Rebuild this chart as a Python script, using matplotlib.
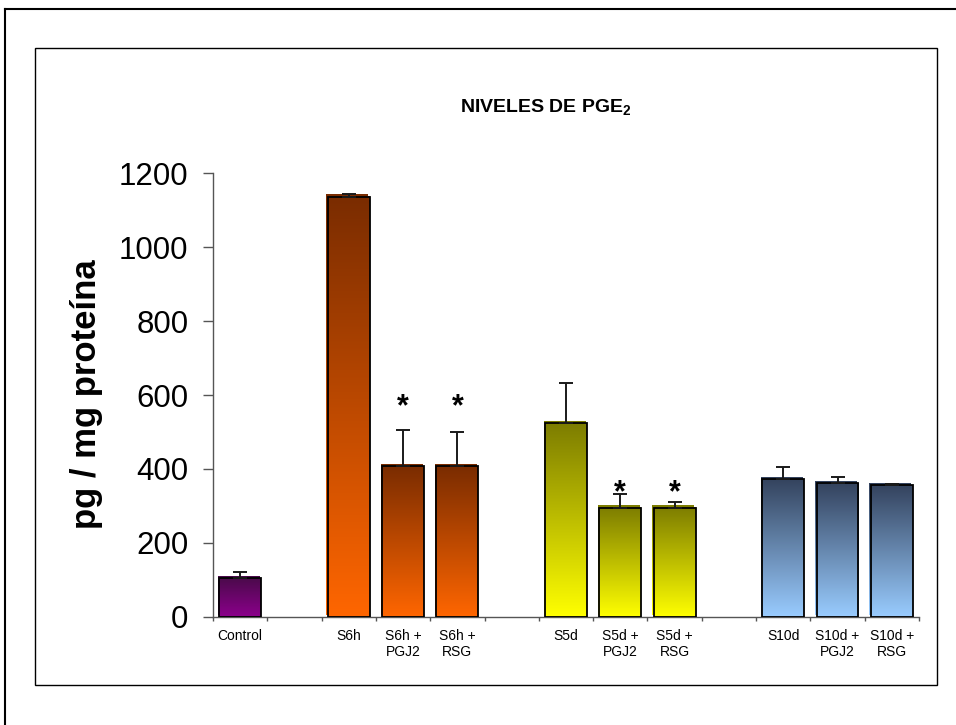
import numpy as np
import matplotlib.pyplot as plt
import matplotlib.transforms as mtransforms
from matplotlib.colors import LinearSegmentedColormap
from matplotlib.patches import Rectangle
from matplotlib.lines import Line2D

plt.rcParams['font.family'] = ['Liberation Sans', 'DejaVu Sans']
plt.rcParams['mathtext.fontset'] = 'custom'
plt.rcParams['mathtext.rm'] = 'Liberation Sans'
plt.rcParams['mathtext.bf'] = 'Liberation Sans:bold'

# data (empty slots are the gaps between groups)
categories = ['Control', '', 'S6h', 'S6h +\nPGJ2', 'S6h +\nRSG', '',
              'S5d', 'S5d +\nPGJ2', 'S5d +\nRSG', '',
              'S10d', 'S10d +\nPGJ2', 'S10d +\nRSG']
means = [104, np.nan, 1137, 408, 408, np.nan, 525, 295, 295, np.nan, 372, 362, 357]
errors = [16, np.nan, 8, 98, 93, np.nan, 108, 36, 15, np.nan, 34, 16, 3]
group_of_bar = [0, None, 1, 1, 1, None, 2, 2, 2, None, 3, 3, 3]
star_bars = [3, 4, 7, 8]
star_levels = [566, 566, 333, 333]

# gradient colours per group: (top, bottom)
group_colors = [('#4b0a4b', '#8c008c'),
                ('#7a2c00', '#ff6600'),
                ('#7d7d00', '#ffff00'),
                ('#34435e', '#99ccff')]

W, H = 956, 725
fig = plt.figure(figsize=(W / 100, H / 100), dpi=100)
ax = fig.add_axes([213 / W, 1 - 616.7 / H, (919 - 213) / W, (616.7 - 173.3) / H])

bar_w = 0.77
grad = np.linspace(0, 1, 256).reshape(-1, 1)
shadow = ax.transData + mtransforms.ScaledTranslation(-0.015, 0.02, fig.dpi_scale_trans)

for i, v in enumerate(means):
    if np.isnan(v):
        continue
    top, bottom = group_colors[group_of_bar[i]]
    cmap = LinearSegmentedColormap.from_list('g%d' % i, [bottom, top])
    ext = [i - bar_w / 2, i + bar_w / 2, 0, v]
    ax.imshow(grad, extent=ext, origin='lower', aspect='auto', cmap=cmap,
              interpolation='bilinear', transform=shadow, zorder=2)
    ax.imshow(grad, extent=ext, origin='lower', aspect='auto', cmap=cmap,
              interpolation='bilinear', zorder=2)
    ax.add_patch(Rectangle((i - bar_w / 2, 0), bar_w, v, fill=False,
                           ec='black', lw=1.3, zorder=3))

x = np.arange(len(categories))
m = np.array(means, dtype=float)
e = np.array(errors, dtype=float)
ok = ~np.isnan(m)
ax.errorbar(x[ok], m[ok], yerr=[np.zeros(ok.sum()), e[ok]], fmt='none',
            ecolor='#1a1a1a', elinewidth=1.4, capsize=4.7, capthick=1.4, zorder=4)

for b, lv in zip(star_bars, star_levels):
    ax.text(b, lv, '*', ha='center', va='center', fontsize=22, fontweight='bold', zorder=5)

ax.set_xlim(-0.5, len(categories) - 0.5)
ax.set_ylim(0, 1200)

ax.set_xticks(np.arange(-0.5, len(categories)), labels=[''] * (len(categories) + 1))
ax.set_xticks(x, labels=categories, minor=True)
ax.tick_params(axis='x', which='major', direction='out', length=3, width=1, color='#555555')
ax.tick_params(axis='x', which='minor', length=0, pad=9, labelsize=10)
ax.set_yticks(np.arange(0, 1201, 200))
ax.tick_params(axis='y', direction='out', length=7.2, width=1, color='#555555',
               pad=10.5, labelsize=22.5)

for s in ['top', 'right']:
    ax.spines[s].set_visible(False)
for s in ['left', 'bottom']:
    ax.spines[s].set_color('#555555')
    ax.spines[s].set_linewidth(1)

fig.text(103 / W, 1 - 394 / H, 'pg / mg proteína', rotation=90, ha='right', va='center',
         fontsize=25, fontweight='bold')
fig.text(546 / W, 1 - 113 / H, r'NIVELES DE PGE$_{\mathbf{2}}$', ha='center', va='baseline',
         fontsize=14, fontweight='bold')

# chart area frames
fig.add_artist(Rectangle((35 / W, 1 - 685 / H), (937 - 35) / W, (685 - 48) / H,
                         transform=fig.transFigure, fill=False, ec='black', lw=1))
fig.add_artist(Line2D([5 / W, 5 / W], [0, 1 - 9 / H], transform=fig.transFigure,
                      color='black', lw=1.5))
fig.add_artist(Line2D([5 / W, 1], [1 - 9 / H, 1 - 9 / H], transform=fig.transFigure,
                      color='black', lw=1.5))

fig.savefig('out.png', dpi=100)
